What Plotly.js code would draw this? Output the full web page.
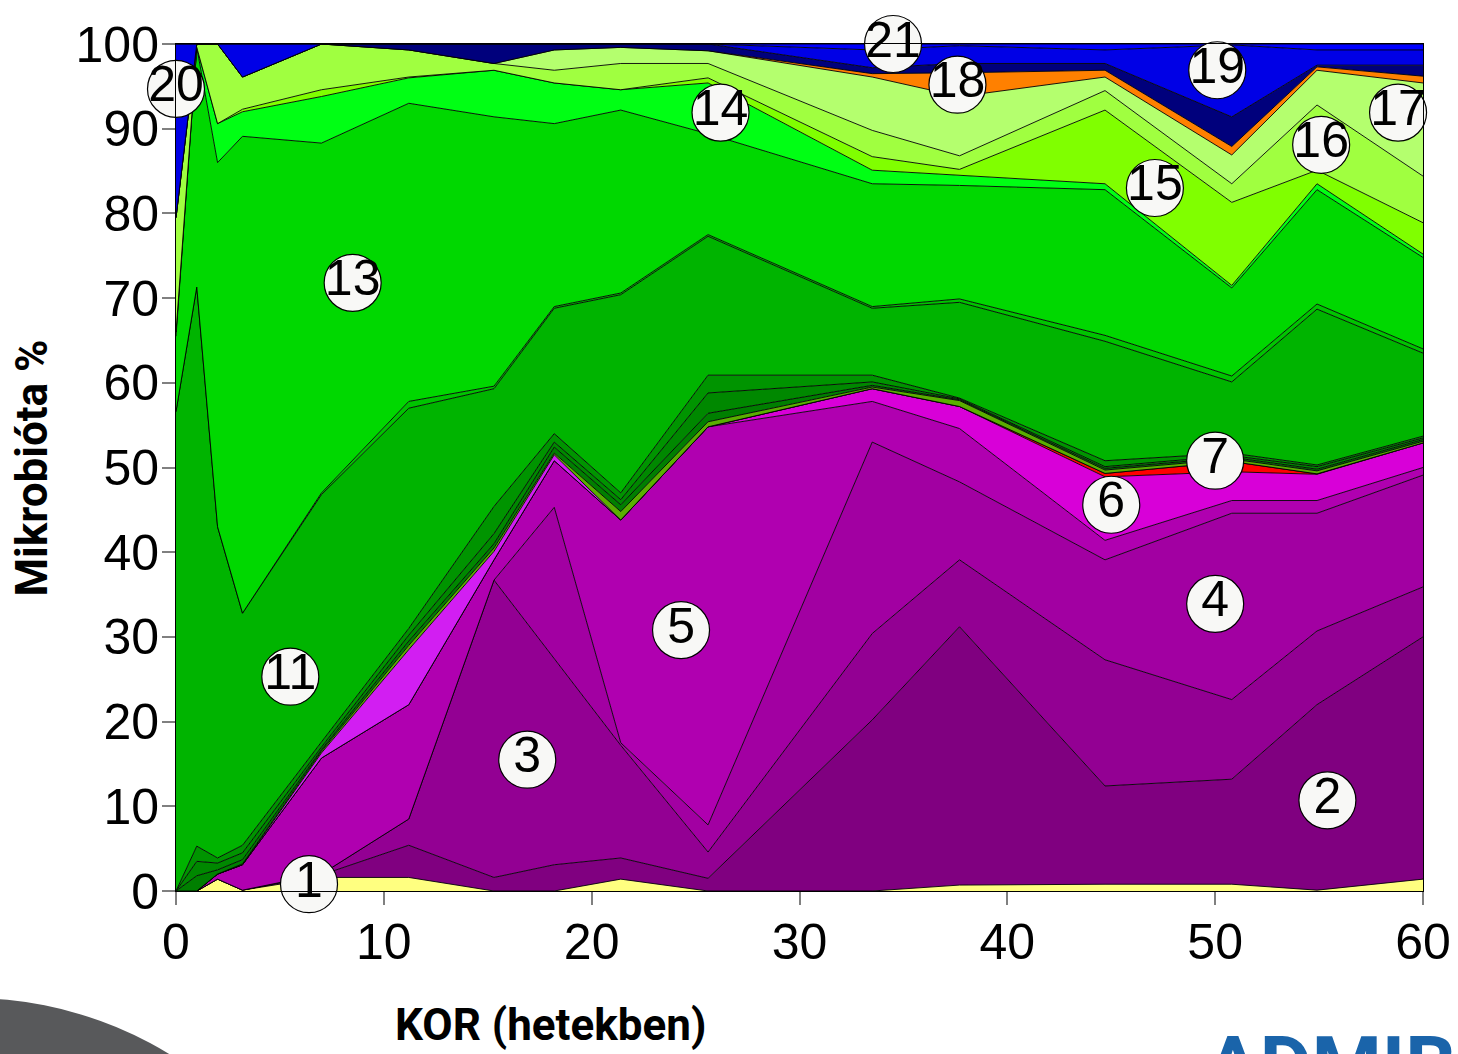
<!DOCTYPE html>
<html><head><meta charset="utf-8">
<script src="https://cdn.plot.ly/plotly-3.0.1.min.js"></script>
<style>html,body{margin:0;padding:0;background:#fff;}#chart{width:1458px;height:1054px;}</style>
</head><body><div id="chart"></div>
<script>
// age in weeks
const weeks = [0, 1, 2, 3.2, 7, 11.2, 15.3, 18.2, 21.4, 25.6, 33.5, 37.7, 44.7, 50.8, 54.9, 60];

// series values (%), bottom to top of the stack
const s1     = [0, 0, 1.4, 0.1, 1.6, 1.6, 0, 0, 1.4, 0, 0, 0.7, 0.8, 0.8, 0.1, 1.4];
const s2     = [0, 0, 0, 0, 0.3, 3.8, 1.6, 3.1, 2.5, 1.5, 20.2, 30.5, 11.6, 12.4, 21.9, 28.6];
const s3     = [0, 0, 0, 0, 0.1, 3.1, 35.1, 24.3, 13.3, 3.1, 10.2, 7.9, 14.9, 9.4, 8.7, 5.9];
const s4     = [0, 0, 0, 0, 0, 0, 0, 17.9, 0.3, 3.2, 22.6, 9.2, 11.8, 22.0, 13.9, 13.2];
const s5     = [0, 0, 0.6, 3.0, 13.7, 13.5, 2.4, 5.5, 26.3, 47.0, 4.8, 6.3, 2.3, 1.5, 1.5, 0.9];
const s6     = [0, 0, 0, 0, 0, 0, 0, 0, 0, 0, 1.5, 2.6, 7.5, 3.4, 3.1, 2.9];
const s7     = [0, 0, 0, 0, 0, 0, 0, 0, 0, 0, 0, 0, 0.4, 1.2, 0.05, 0];
const violet = [0, 0, 0, 0, 0.6, 6.5, 1.0, 0.7, 0, 0, 0, 0, 0, 0, 0, 0];
const olive  = [0, 0, 0, 0.1, 0.2, 0.5, 0.4, 0.2, 1.0, 0.6, 0.2, 0.7, 0.4, 0.3, 0.35, 0.2];
const dark1  = [0, 1.8, 0.5, 0.5, 0.2, 0.5, 0.5, 0.7, 0.8, 1.0, 0.2, 0.1, 0.2, 0.2, 0.2, 0.2];
const dark2  = [0, 1.7, 0.8, 0.8, 0.3, 0.7, 1.2, 0.6, 0.6, 2.4, 0.4, 0.1, 0.2, 0.2, 0.3, 0.2];
const dark3  = [0, 1.8, 0.6, 0.9, 0.6, 0.8, 3.2, 1.0, 0.8, 2.1, 0.8, 0.1, 0.7, 0.3, 0.2, 0.2];
const s11    = [56.6, 66.0, 39.1, 27.4, 29.2, 26.0, 13.9, 14.8, 23.4, 16.4, 7.9, 11.3, 14.1, 8.4, 18.4, 9.8];
const s12    = [0, 0, 0, 0, 0.2, 0.8, 0.3, 0.2, 0.2, 0.2, 0.2, 0.4, 0.7, 0.7, 0.6, 0.5];
const s13    = [8.9, 28.3, 43.0, 56.3, 41.3, 35.2, 31.8, 21.6, 21.6, 11.9, 14.5, 13.4, 17.2, 10.4, 13.5, 10.8];
const s14    = [0.5, 0, 4.6, 2.9, 5.5, 3.0, 5.5, 4.8, 2.4, 6.0, 1.6, 1.2, 0.7, 0.3, 0.7, 0.4];
const s15    = [0, 0, 0, 0.3, 0.8, 0.1, 0, 0, 0, 0.6, 1.6, 0.7, 8.7, 9.8, 1.6, 3.7];
const s16    = [13.5, 0.4, 9.4, 3.8, 5.4, 3.2, 0.8, 1.5, 3.1, 1.7, 3.1, 1.6, 2.3, 2.2, 7.7, 5.5];
const s17    = [0, 0, 0, 0, 0, 0, 0, 2.4, 1.9, 1.5, 6.3, 7.0, 1.6, 3.4, 4.1, 11.0];
const s18    = [0, 0, 0, 0, 0, 0, 0, 0, 0, 0, 0.4, 2.8, 0.8, 1.0, 0.4, 0.8];
const s19    = [0, 0, 0, 0, 0, 0.7, 2.3, 0.7, 0.4, 0.8, 0.7, 1.1, 0.8, 3.5, 0.2, 1.3];
const s20    = [20.5, 0, 0, 3.9, 0, 0, 0, 0, 0, 0, 2.1, 2.1, 1.6, 8.5, 1.8, 1.8];
const s21    = [0, 0, 0, 0, 0, 0, 0, 0, 0, 0, 0.7, 0.2, 0.7, 0.1, 0.7, 0.7];

// circled series labels
const labelText = ['1','2','3','4','5','6','7','11','13','14','15','16','17','18','19','20','21'];
const labelX = [6.4, 55.4, 16.9, 50.0, 24.3, 45.0, 50.0, 5.5, 8.5, 26.2, 47.1, 55.1, 58.8, 37.6, 50.1, 0, 34.5];
const labelY = [0.8, 10.7, 15.5, 33.9, 30.8, 45.6, 50.8, 25.3, 71.8, 91.9, 83.0, 88.1, 91.9, 95.2, 96.9, 94.7, 100];

const xTitle = 'KOR (hetekben)';
const yTitle = 'Mikrobióta %';
const logoText = 'ADMIB';

const layers = [
  {name:'1', y:s1, color:'#FFFF80'},
  {name:'2', y:s2, color:'#800080'},
  {name:'3', y:s3, color:'#930093'},
  {name:'4', y:s4, color:'#A200A2'},
  {name:'5', y:s5, color:'#B000B0'},
  {name:'6', y:s6, color:'#D800D8'},
  {name:'7', y:s7, color:'#FF0000'},
  {name:'8', y:violet, color:'#D21EF2'},
  {name:'9', y:olive, color:'#5AAE00'},
  {name:'10a', y:dark1, color:'#007F00'},
  {name:'10b', y:dark2, color:'#008800'},
  {name:'10c', y:dark3, color:'#009400'},
  {name:'11', y:s11, color:'#00B400'},
  {name:'12', y:s12, color:'#00C400'},
  {name:'13', y:s13, color:'#00D800'},
  {name:'14', y:s14, color:'#00FF14'},
  {name:'15', y:s15, color:'#80FF00'},
  {name:'16', y:s16, color:'#A0FF40'},
  {name:'17', y:s17, color:'#B4FF6E'},
  {name:'18', y:s18, color:'#FF8000'},
  {name:'19', y:s19, color:'#00007C'},
  {name:'20', y:s20, color:'#0000E6'},
  {name:'21', y:s21, color:'#0000FF'}
];

const traces = layers.map(l => ({
  type:'scatter', mode:'lines', x:weeks, y:l.y, name:l.name,
  stackgroup:'mb', line:{color:'#000', width:0.9, shape:'linear'},
  fillcolor:l.color, hoverinfo:'skip', showlegend:false
}));

traces.push({
  type:'scatter', mode:'markers+text', x:labelX, y:labelY, text:labelText,
  textposition:'middle center', cliponaxis:false,
  marker:{symbol:'circle', size:57, color:'#F8F8F6', line:{color:'#000', width:1.2}},
  textfont:{family:'Liberation Sans, Arial, sans-serif', size:50, color:'#000'},
  hoverinfo:'skip', showlegend:false
});

const axisCommon = {
  showgrid:false, zeroline:false, ticks:'outside', ticklen:13, tickwidth:2,
  tickcolor:'#808080', showline:true, linecolor:'#000', linewidth:1, mirror:true,
  tickfont:{family:'Liberation Sans, Arial, sans-serif', size:50, color:'#000'},
  fixedrange:true
};

const layout = {
  width:1458, height:1054,
  margin:{l:176, r:35, t:44, b:163},
  paper_bgcolor:'#fff', plot_bgcolor:'#fff', showlegend:false,
  font:{family:'Liberation Sans, Arial, sans-serif', color:'#000'},
  xaxis:Object.assign({range:[0,60], tick0:0, dtick:10, ticklabelstandoff:-6}, axisCommon),
  yaxis:Object.assign({range:[0,100], tick0:0, dtick:10, ticklabelstandoff:-7}, axisCommon),
  annotations:[
    {text:'<b>'+xTitle+'</b>', xref:'paper', yref:'paper', x:0.30, y:-0.1582, yanchor:'middle', xanchor:'center', showarrow:false,
     font:{family:'Roboto, Open Sans, sans-serif', size:44, color:'#000'}},
    {text:'<b>'+yTitle+'</b>', xref:'paper', yref:'paper', x:-0.1155, y:0.5, xanchor:'center', yanchor:'middle', textangle:-90, showarrow:false,
     font:{family:'Roboto, Open Sans, sans-serif', size:44, color:'#000'}},
    {text:'<b>'+logoText+'</b>', xref:'paper', yref:'paper', x:0.824, y:-0.1488, xanchor:'left', yanchor:'top', showarrow:false,
     font:{family:'Roboto, Open Sans, sans-serif', size:80, color:'#1A64AA'}}
  ],
  shapes:[
    {type:'circle', xref:'paper', yref:'paper', x0:-0.4715, x1:0.1411, y0:-1.028, y1:-0.1263,
     fillcolor:'#58595B', line:{width:0}, layer:'below'}
  ]
};

Plotly.newPlot('chart', traces, layout, {displayModeBar:false, staticPlot:true});
</script>
</body></html>
